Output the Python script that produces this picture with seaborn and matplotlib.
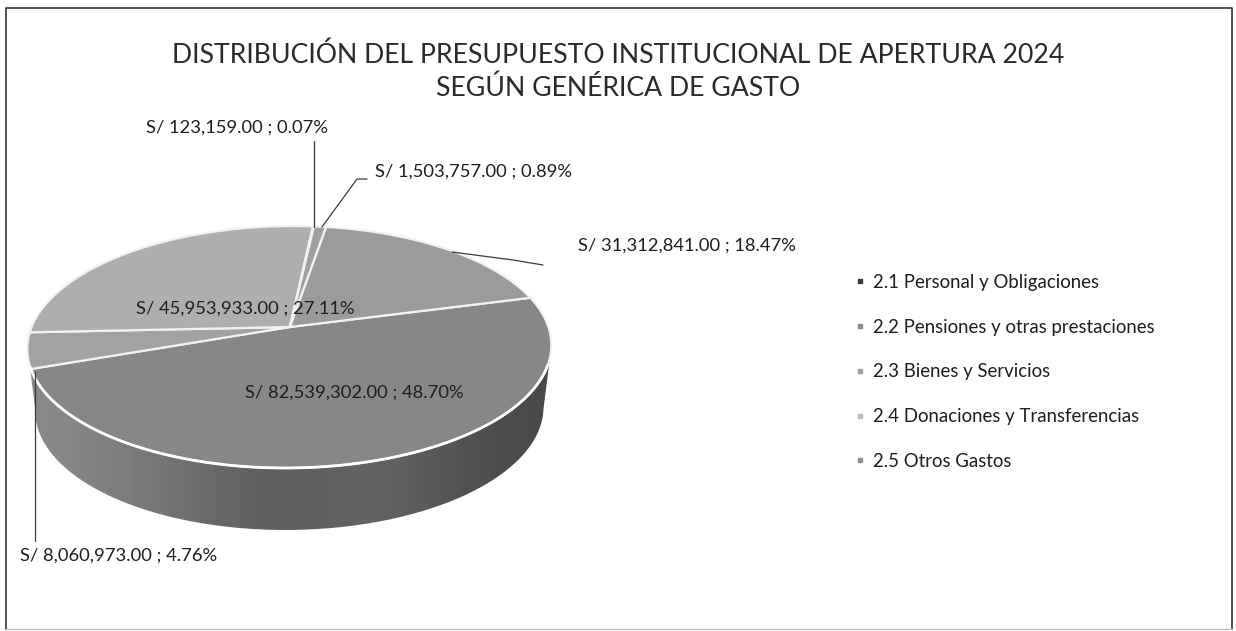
import numpy as np
import matplotlib
matplotlib.use("Agg")
import matplotlib.pyplot as plt
import seaborn as sns
from matplotlib.path import Path
from matplotlib.transforms import Transform, Affine2D
from matplotlib.lines import Line2D

# ---- data ----
title_lines = ["DISTRIBUCIÓN DEL PRESUPUESTO INSTITUCIONAL DE APERTURA 2024",
               "SEGÚN GENÉRICA DE GASTO"]
amounts = [82539302.00, 8060973.00, 45953933.00, 123159.00, 1503757.00, 31312841.00]
percents = [48.70, 4.76, 27.11, 0.07, 0.89, 18.47]
slice_colors = ["#878787", "#a2a2a2", "#aeaeae", "#9c9c9c", "#a0a0a0", "#9b9b9b"]
legend_labels = ["2.1 Personal y Obligaciones", "2.2 Pensiones y otras prestaciones",
                 "2.3 Bienes y Servicios", "2.4 Donaciones y Transferencias", "2.5 Otros Gastos"]
legend_colors = ["#3c3c3c", "#8a8a8a", "#a0a0a0", "#bdbdbd", "#909090"]

FONT = "Lato"
sns.set_theme(style="white")
plt.rcParams["font.family"] = [FONT, "DejaVu Sans"]

W, H = 1236, 631
fig = plt.figure(figsize=(W / 100, H / 100), dpi=100, facecolor="white")
ax = fig.add_axes([0, 0, 1, 1])

# perspective projection of the unit pie onto the picture plane
X0, K, D, Y0, A, C = 290.0, 258.4, 4.0, 327.0, -63.64, 0.1653


def project(u, v, side=False):
    w = 1 + C * v
    x = (K * u + D * v) / w
    y = (A * v + Y0) / w
    if side:
        x *= 0.97
        y = y + 62
    return X0 + x, y


class Perspective(Transform):
    input_dims = output_dims = 2
    is_affine = False
    has_inverse = False

    def transform_non_affine(self, values):
        values = np.asarray(values, dtype=float)
        x, y = project(values[:, 0], values[:, 1])
        return np.column_stack([x, y])

    def transform_path_non_affine(self, path):
        # flatten at high resolution so the rim stays smooth
        big = path.transformed(Affine2D().scale(1000))
        pts = np.concatenate(big.to_polygons(closed_only=True)) / 1000
        out = []
        for a, b in zip(pts[:-1], pts[1:]):
            out.append(a + (b - a) * np.linspace(0, 1, 6, endpoint=False)[:, None])
        out.append(pts[-1:])
        return Path(self.transform_non_affine(np.concatenate(out)))


wedges, _ = ax.pie(amounts, colors=slice_colors, startangle=15, counterclock=False,
                   radius=1, wedgeprops=dict(edgecolor="#f2f2f2", linewidth=1.6))
persp = Perspective() + ax.transData
for w_ in wedges:
    w_.set_transform(persp)
    w_.set_zorder(3)

ax.set_aspect("auto")
ax.set_xlim(0, W)
ax.set_ylim(H, 0)
ax.axis("off")

# cylinder wall, shaded left to right
th = np.radians(np.linspace(180 + 9.5, 360 - 9.5, 200))
top = np.column_stack(project(np.cos(th), np.sin(th)))
bot = np.column_stack(project(np.cos(th), np.sin(th), side=True))[::-1]
wall = Path(np.vstack([top, bot, top[:1]]))
shade = np.array([[0.54, 0.50, 0.46, 0.41, 0.37, 0.37, 0.40, 0.36, 0.31, 0.29]])
im = ax.imshow(shade, cmap="gray", vmin=0, vmax=1, extent=(30, 553, 540, 330),
               aspect="auto", interpolation="bicubic", zorder=2)
im.set_clip_path(wall, ax.transData)
ax.set_xlim(0, W)
ax.set_ylim(H, 0)

# white front rim
th2 = np.radians(np.linspace(199.3, 342, 200))
rx, ry = project(np.cos(th2), np.sin(th2))
ax.plot(rx, ry, color="white", lw=2.0, zorder=4)

# chart frame
ax.plot([6, 6, 1232, 1232], [629, 8, 8, 629], color="#333333", lw=1.2, zorder=1)
ax.plot([6, 1232], [629, 629], color="#bdbdbd", lw=1.0, zorder=1)

# titles
for txt, yy in zip(title_lines, [55, 88]):
    ax.text(618, yy, txt, ha="center", va="center", fontsize=19.15, color="#2a2a2a", zorder=6)


def lab(i):
    return f"S/ {amounts[i]:,.2f} ; {percents[i]:.2f}%"


TC = "#1e1e1e"
FS = 13.2
ax.text(375, 172, lab(4), fontsize=FS, color=TC, va="center", zorder=6)
ax.text(146, 128, lab(3), fontsize=FS, color=TC, va="center", zorder=6)
ax.text(578, 246, lab(5), fontsize=FS, color=TC, va="center", zorder=6)
ax.text(136, 309, lab(2), fontsize=FS, color=TC, va="center", zorder=6)
ax.text(245, 393, lab(0), fontsize=FS, color=TC, va="center", zorder=6)
ax.text(20, 556, lab(1), fontsize=FS, color=TC, va="center", zorder=6)

# leader lines
LC = "#3a3a3a"
ax.plot([313.5, 313.5], [141, 227], color=LC, lw=0.9, zorder=5)
ax.plot([322, 357, 367], [227, 179, 179], color=LC, lw=0.9, zorder=5)
ax.plot([452, 513, 543], [252, 260, 265], color=LC, lw=0.9, zorder=5)
ax.plot([35, 35], [372, 541], color=LC, lw=0.9, zorder=5)

# legend
handles = [Line2D([], [], ls="", marker="s", ms=2.8, color=c) for c in legend_colors]
ax.legend(handles, legend_labels, loc="upper left", bbox_to_anchor=(851 / W, 1 - 274 / H),
          bbox_transform=fig.transFigure, frameon=False, fontsize=13.4,
          labelspacing=1.49, handletextpad=0.18, handlelength=1.0, borderpad=0, borderaxespad=0,
          labelcolor="#1e1e1e")

fig.savefig("out.png", dpi=100)
